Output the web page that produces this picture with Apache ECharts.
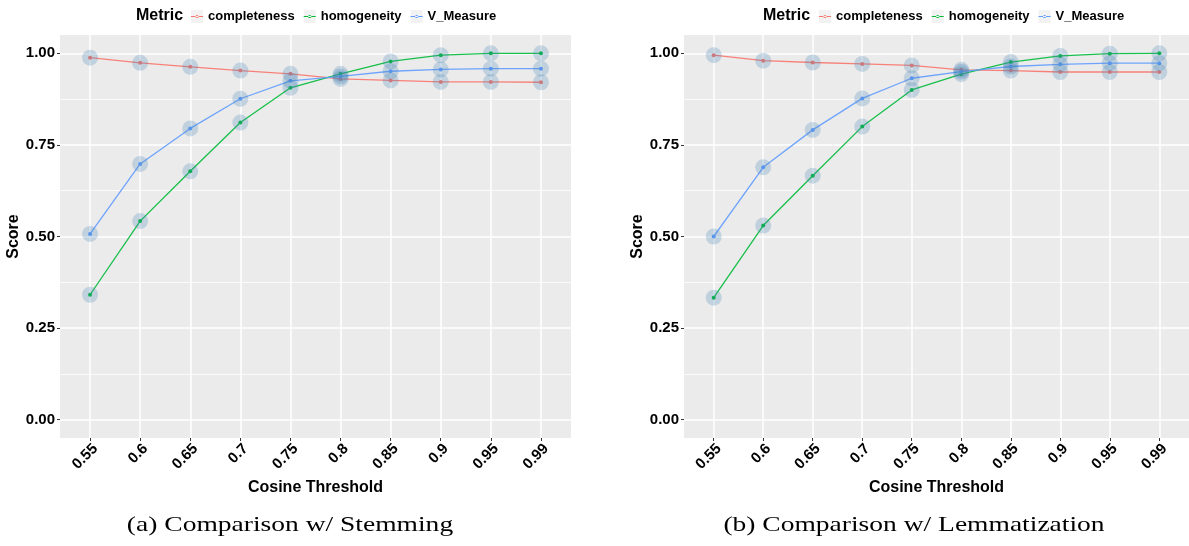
<!DOCTYPE html>
<html>
<head>
<meta charset="utf-8">
<script src="https://cdn.jsdelivr.net/npm/echarts@6/dist/echarts.min.js"></script>
<style>
html,body{margin:0;padding:0;background:#fff;}
#chart{width:1189px;height:546px;}
</style>
</head>
<body>
<div id="chart"></div>
<script>
// ---- data ----
const categories = ['0.55','0.6','0.65','0.7','0.75','0.8','0.85','0.9','0.95','0.99'];
const metricNames = ['completeness','homogeneity','V_Measure'];
const yTickValues = [0, 0.25, 0.5, 0.75, 1];
const yMinorValues = [0.125, 0.375, 0.625, 0.875];

const stemCompleteness = [0.988,0.974,0.963,0.953,0.944,0.930,0.926,0.922,0.922,0.921];
const stemHomogeneity  = [0.341,0.542,0.678,0.811,0.906,0.944,0.978,0.995,1.000,1.000];
const stemVMeasure     = [0.507,0.698,0.795,0.876,0.925,0.937,0.951,0.956,0.958,0.958];

const lemmCompleteness = [0.995,0.980,0.975,0.971,0.967,0.955,0.953,0.949,0.949,0.949];
const lemmHomogeneity  = [0.333,0.530,0.666,0.800,0.900,0.943,0.976,0.993,0.999,1.000];
const lemmVMeasure     = [0.500,0.689,0.791,0.877,0.932,0.950,0.964,0.970,0.973,0.973];

const captions = ['(a) Comparison w/ Stemming', '(b) Comparison w/ Lemmatization'];

// ---- styling ----
const colors = ['#F8766D', '#00BA38', '#619CFF'];
const FONT = '"Liberation Sans", Arial, sans-serif';
const LEG_FONT = 'bold 13px ' + FONT;
const panels = [
  {left: 60, data: [stemCompleteness, stemHomogeneity, stemVMeasure], caption: captions[0], capX: 290, metricX: 136, legendX: 191},
  {left: 684, data: [lemmCompleteness, lemmHomogeneity, lemmVMeasure], caption: captions[1], capX: 914, metricX: 763, legendX: 819}
];
const catIdx = categories.map((c, i) => i);

// text measuring for legend key backgrounds
const mctx = document.createElement('canvas').getContext('2d');
mctx.font = LEG_FONT;
const ICON_W = 12, ICON_TEXT_GAP = 5, ITEM_GAP = 9;

const grids = [], xAxes = [], yAxes = [], series = [], legends = [], graphics = [];
panels.forEach((p, k) => {
  grids.push({left: p.left, top: 35, width: 511, height: 403, show: true,
    backgroundColor: '#EBEBEB', borderWidth: 0, containLabel: false});
  xAxes.push({
    type: 'value', gridIndex: k, min: -0.6, max: 9.6,
    name: 'Cosine Threshold', nameLocation: 'middle', nameGap: 21,
    nameTextStyle: {fontFamily: FONT, fontWeight: 'bold', fontSize: 16, color: '#000'},
    axisLine: {show: false, onZero: false},
    axisTick: {show: true, length: 3, lineStyle: {color: '#333', width: 1}, customValues: catIdx},
    axisLabel: {customValues: catIdx, formatter: v => categories[Math.round(v)], rotate: 45, margin: 3,
      verticalAlign: 'top',
      fontFamily: FONT, fontWeight: 'bold', fontSize: 15, color: '#000'},
    splitLine: {show: true, lineStyle: {color: '#fff', width: 1.5}}
  });
  yAxes.push({
    type: 'value', gridIndex: k, min: -0.05, max: 1.05,
    name: 'Score', nameLocation: 'middle', nameGap: 31, nameRotate: 90,
    nameTextStyle: {fontFamily: FONT, fontWeight: 'bold', fontSize: 16, color: '#000'},
    axisLine: {show: false, onZero: false},
    axisTick: {show: true, length: 3, lineStyle: {color: '#333', width: 1}, customValues: yTickValues},
    axisLabel: {customValues: yTickValues, formatter: v => v.toFixed(2), margin: 5,
      fontFamily: FONT, fontWeight: 'bold', fontSize: 15, color: '#000'},
    splitLine: {show: true, lineStyle: {color: '#fff', width: 1.5}}
  });
  yAxes.push({
    type: 'value', gridIndex: k, min: -0.05, max: 1.05,
    axisLine: {show: false, onZero: false},
    axisTick: {show: false, customValues: yMinorValues},
    axisLabel: {show: false, customValues: yMinorValues},
    splitLine: {show: true, lineStyle: {color: '#fff', width: 0.8}}
  });
  p.data.forEach((vals, m) => {
    series.push({
      name: metricNames[m], type: 'line', xAxisIndex: k, yAxisIndex: 2 * k,
      data: vals.map((v, i) => [i, v]), symbol: 'circle', symbolSize: 4, showSymbol: true,
      itemStyle: {color: colors[m]}, lineStyle: {color: colors[m], width: 1.3, opacity: 0.9},
      z: 2, silent: true
    });
  });
  p.data.forEach((vals, m) => {
    series.push({
      name: 'pt_' + k + '_' + m, type: 'scatter', xAxisIndex: k, yAxisIndex: 2 * k,
      data: vals.map((v, i) => [i, v]), symbol: 'circle', symbolSize: 16,
      itemStyle: {color: 'rgba(70,130,180,0.32)'}, z: 3, silent: true
    });
  });
  legends.push({
    data: metricNames, left: p.legendX, top: 10, orient: 'horizontal', padding: 0,
    itemWidth: ICON_W, itemHeight: 4, itemGap: ITEM_GAP,
    icon: 'path://M0 1.5 L12 1.5 L12 2.5 L0 2.5 Z M4.4 2 A1.6 1.6 0 1 0 7.6 2 A1.6 1.6 0 1 0 4.4 2 Z',
    textStyle: {fontFamily: FONT, fontWeight: 'bold', fontSize: 13, color: '#000'},
    selectedMode: false, z: 5
  });
  // legend key backgrounds (ggplot-style grey squares)
  let kx = p.legendX;
  metricNames.forEach(n => {
    graphics.push({type: 'rect', shape: {x: kx, y: 10, width: ICON_W, height: 13},
      style: {fill: '#F2F2F2'}, z: 0, silent: true});
    kx += ICON_W + ICON_TEXT_GAP + mctx.measureText(n).width + ITEM_GAP;
  });
  graphics.push({type: 'text', x: p.metricX, y: 16,
    style: {text: 'Metric', font: 'bold 16px ' + FONT, fill: '#000', textVerticalAlign: 'middle'}});
  graphics.push({type: 'text', x: p.capX, y: 525, scaleX: 1.31, scaleY: 1,
    style: {text: p.caption, font: '21px "Liberation Serif", serif', fill: '#000',
      textAlign: 'center', textVerticalAlign: 'middle'}});
});

const chart = echarts.init(document.getElementById('chart'), null, {renderer: 'canvas'});
chart.setOption({
  animation: false,
  backgroundColor: '#fff',
  grid: grids, xAxis: xAxes, yAxis: yAxes, series: series,
  legend: legends, graphic: graphics
});
</script>
</body>
</html>
